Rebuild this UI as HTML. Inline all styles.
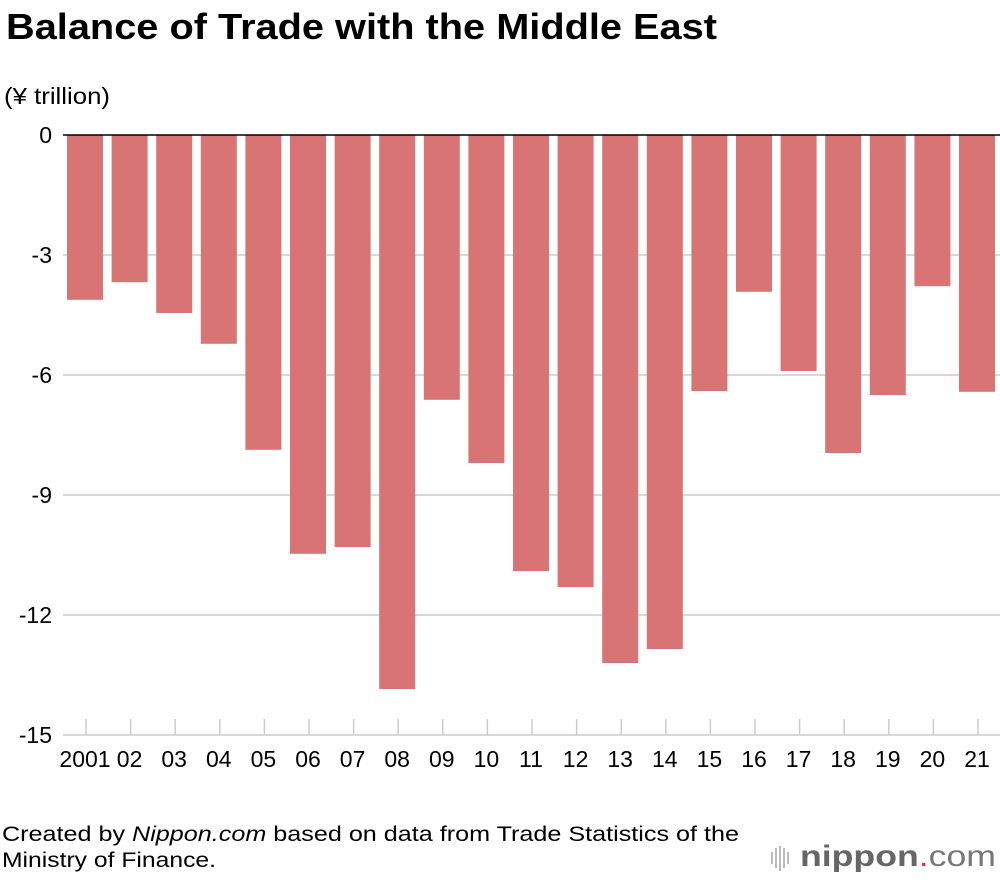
<!DOCTYPE html>
<html><head><meta charset="utf-8"><style>
body{margin:0;background:#fff;width:1000px;height:880px;overflow:hidden;font-family:"Liberation Sans",sans-serif}
</style></head><body>
<svg width="1000" height="880" font-family="Liberation Sans, sans-serif">
<text x="6" y="39" font-size="36" font-weight="bold" fill="#000" textLength="711" lengthAdjust="spacingAndGlyphs">Balance of Trade with the Middle East</text>
<text x="4" y="104" font-size="23" fill="#000" textLength="106" lengthAdjust="spacingAndGlyphs">(¥ trillion)</text>
<g id="grid"></g><g id="bars"></g><g id="axes"></g>
<text x="2" y="841" font-size="21" fill="#000" textLength="737" lengthAdjust="spacingAndGlyphs">Created by <tspan font-style="italic">Nippon.com</tspan> based on data from Trade Statistics of the</text>
<text x="2" y="867" font-size="21" fill="#000" textLength="214" lengthAdjust="spacingAndGlyphs">Ministry of Finance.</text>
<g>
<g stroke="#bbb" stroke-width="2"><line x1="772" y1="852" x2="772" y2="864"/><line x1="776" y1="848" x2="776" y2="868"/><line x1="780" y1="846" x2="780" y2="871"/><line x1="784" y1="848" x2="784" y2="868"/><line x1="788" y1="852" x2="788" y2="864"/></g>
<text x="800" y="866" font-size="30" fill="#666" textLength="196" lengthAdjust="spacingAndGlyphs"><tspan font-weight="bold">nippon</tspan><tspan fill="#e33">.</tspan><tspan fill="#777">com</tspan></text>
</g>
</svg>
<script>
const categories=["2001","02","03","04","05","06","07","08","09","10","11","12","13","14","15","16","17","18","19","20","21"];
const values=[-4.12,-3.68,-4.45,-5.22,-7.87,-10.47,-10.3,-13.85,-6.62,-8.2,-10.9,-11.3,-13.2,-12.85,-6.4,-3.92,-5.9,-7.95,-6.5,-3.78,-6.42];
const yTicks=[0,-3,-6,-9,-12,-15];
const NS="http://www.w3.org/2000/svg";
const y=v=>135-v*40;
const x=i=>85+i*44.6;
const g=document.getElementById('grid'),b=document.getElementById('bars'),a=document.getElementById('axes');
function mk(tag,at,p){const e=document.createElementNS(NS,tag);for(const k in at)e.setAttribute(k,at[k]);p.appendChild(e);return e;}
yTicks.forEach(t=>{
 const l=mk('line',{x1:63,x2:1000,y1:y(t),y2:y(t),stroke:t===0?'#000':'#ccc','stroke-width':1.5},t===0?a:g);
 
 
 const tx=mk('text',{x:52,y:y(t)+8,'font-size':23,'text-anchor':'end',fill:'#000'},a);
 tx.textContent=t;
 
 
});
categories.forEach((c,i)=>{
 const r=mk('rect',{x:x(i)-18,y:y(0),width:36,height:y(values[i])-y(0),fill:'#d97475'},b);
 
 
 const tk=mk('line',{x1:x(i)+1,x2:x(i)+1,y1:719,y2:735,stroke:'#ccc','stroke-width':1.5},g);
 
 
 const tx=mk('text',{x:x(i),y:767,'font-size':23,'text-anchor':'middle',fill:'#000'},a);
 tx.textContent=c;
 
 
});
</script>
</body></html>
